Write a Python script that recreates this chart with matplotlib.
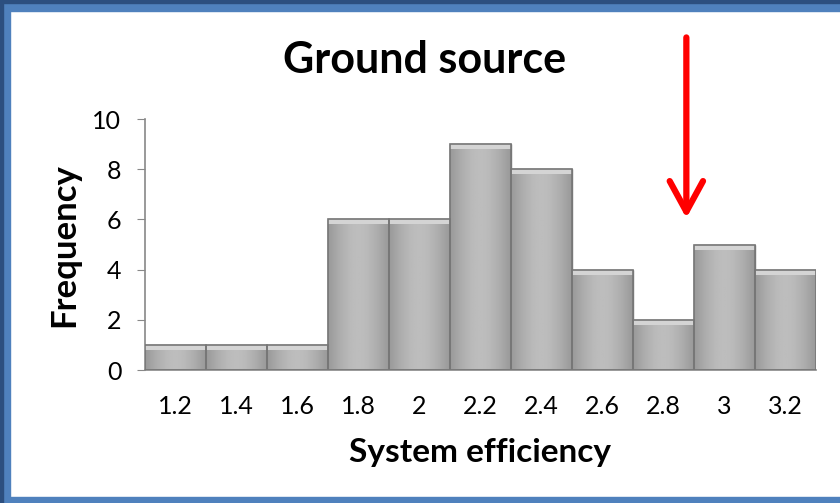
import matplotlib.pyplot as plt
from matplotlib.patches import Rectangle
import numpy as np

# histogram data
bins = [1.2, 1.4, 1.6, 1.8, 2.0, 2.2, 2.4, 2.6, 2.8, 3.0, 3.2]
tick_labels = ["1.2", "1.4", "1.6", "1.8", "2", "2.2", "2.4", "2.6", "2.8", "3", "3.2"]
freq = [1, 1, 1, 6, 6, 9, 8, 4, 2, 5, 4]
bin_width = 0.2
arrow_x = 2.875

plt.rcParams["font.family"] = ["Lato", "DejaVu Sans"]

fig = plt.figure(figsize=(8.4, 5.03), dpi=100)
ax = fig.add_axes([0.1726, 0.2644, 0.7988, 0.4990])

bars = ax.bar(bins, freq, width=bin_width, color="#a9a9a9",
              edgecolor="#7a7a7a", linewidth=1.0, zorder=2)

# gradient fill clipped to each bar for the beveled look
grad = np.linspace(0, 1, 64)
shade = 0.60 + 0.14 * np.sin(np.pi * grad)
img = np.tile(shade, (2, 1))
for b in bars:
    x0, y0 = b.get_x(), b.get_y()
    w, h = b.get_width(), b.get_height()
    im = ax.imshow(img, cmap="gray", vmin=0, vmax=1, aspect="auto",
                   extent=[x0, x0 + w, y0, y0 + h], zorder=2.5)
    im.set_clip_path(b)
    # light top edge
    top = min(0.2, h * 0.25)
    ax.bar(x0 + w / 2, top, bottom=h - top, width=w, color="#d4d4d4",
           edgecolor="none", zorder=2.6)
    ax.bar(x0 + w / 2, h, width=w, color="none", edgecolor="#777777",
           linewidth=1.2, zorder=3)

ax.set_xlim(bins[0] - bin_width / 2, bins[-1] + bin_width / 2)
ax.set_ylim(0, 10)
ax.set_yticks([0, 2, 4, 6, 8, 10])
ax.set_xticks(bins)
ax.set_xticklabels(tick_labels)
ax.tick_params(axis="y", labelsize=18, length=6, color="#888888", pad=11)
ax.tick_params(axis="x", labelsize=18, length=0, pad=18)
for s in ["top", "right"]:
    ax.spines[s].set_visible(False)
for s in ["left", "bottom"]:
    ax.spines[s].set_color("#888888")
    ax.spines[s].set_linewidth(1.2)

fig.text(0.506, 0.88, "Ground source", ha="center", va="center",
         fontsize=31, fontweight="bold")
fig.text(0.571, 0.10, "System efficiency", ha="center", va="center",
         fontsize=24, fontweight="bold")
fig.text(0.077, 0.513, "Frequency", ha="center", va="center",
         rotation=90, fontsize=25, fontweight="bold")

# red arrow
ax.annotate("", xy=(arrow_x, 6.05), xytext=(arrow_x, 13.25),
            xycoords="data", textcoords="data", annotation_clip=False,
            arrowprops=dict(arrowstyle="->,head_length=2.2,head_width=1.2",
                            color="#ff0000", lw=4.5, mutation_scale=10,
                            shrinkA=0, shrinkB=0, capstyle="round",
                            joinstyle="round"))

# blue frame
fr = fig.transFigure
W, H = 840.0, 503.0
fig.add_artist(Rectangle((0, 0), 10 / W, 1, transform=fr, color="#4f81bd", zorder=10))
fig.add_artist(Rectangle((0, 1 - 11 / H), 1, 11 / H, transform=fr, color="#4f81bd", zorder=10))
fig.add_artist(Rectangle((0, 0), 1, 6 / H, transform=fr, color="#4f81bd", zorder=10))
fig.add_artist(Rectangle((0, 1 - 2.5 / H), 1, 2.5 / H, transform=fr, color="#2c4f7f", zorder=11))
fig.add_artist(Rectangle((0, 0), 2.5 / W, 1, transform=fr, color="#2c4f7f", zorder=11))

fig.savefig("out.png", dpi=100)
